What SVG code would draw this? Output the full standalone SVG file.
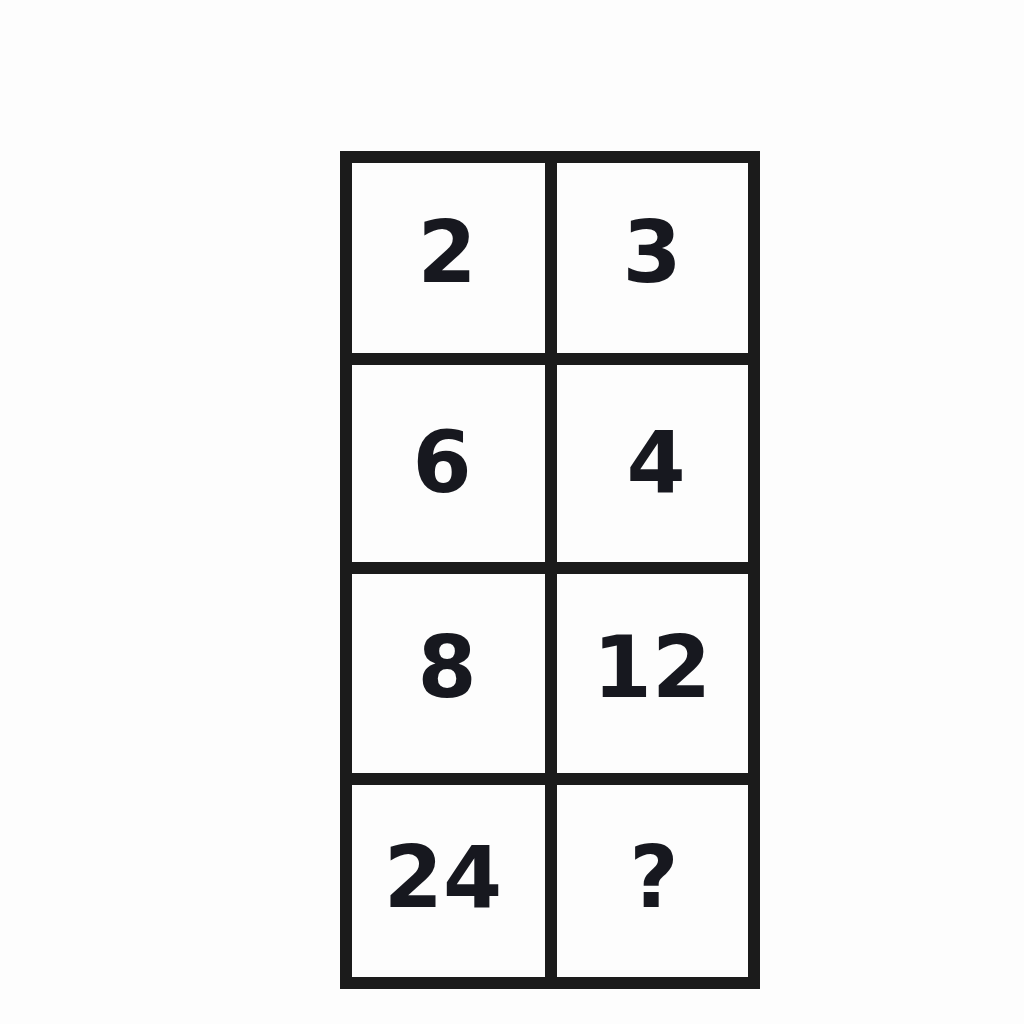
<svg xmlns="http://www.w3.org/2000/svg" width="1024" height="1024" viewBox="0 0 1024 1024">
<style>
.ln{stroke:#1b1b1b;stroke-width:12;fill:none;stroke-linecap:square}
.t{font-family:"DejaVu Sans","Liberation Sans",sans-serif;font-weight:bold;font-size:85px;fill:#17181f;text-anchor:middle}
</style>
<rect width="1024" height="1024" fill="#fdfdfd"/>
<g id="grid">
<rect class="ln" x="346" y="157" width="408" height="826"/>
<line class="ln" x1="551" y1="157" x2="551" y2="983"/>
<line class="ln" x1="346" y1="359" x2="754" y2="359"/>
<line class="ln" x1="346" y1="568" x2="754" y2="568"/>
<line class="ln" x1="346" y1="779" x2="754" y2="779"/>
</g>
<g id="c11"><text class="t" x="447" y="282">2</text></g>
<g id="c12"><text class="t" x="652" y="282">3</text></g>
<g id="c21"><text class="t" x="442" y="492">6</text></g>
<g id="c22"><text class="t" x="656" y="492">4</text></g>
<g id="c31"><text class="t" x="447" y="697">8</text></g>
<g id="c32"><text class="t" x="652" y="697">12</text></g>
<g id="c41"><text class="t" x="443" y="907">24</text></g>
<g id="c42"><text class="t" x="654" y="907">?</text></g>
</svg>
